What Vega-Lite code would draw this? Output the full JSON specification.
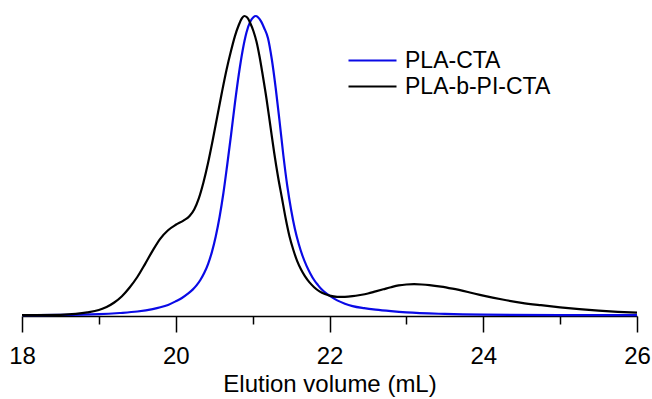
{
  "$schema": "https://vega.github.io/schema/vega-lite/v6.json",
  "width": 615,
  "height": 300,
  "autosize": "none",
  "padding": {"left": 22, "top": 16, "right": 15, "bottom": 83},
  "background": "white",
  "config": {
    "view": {"stroke": null},
    "font": "Liberation Sans"
  },
  "data": {
    "values": [
      {"sample": "PLA-CTA", "volume": 18.0, "signal": 0.3}, {"sample": "PLA-CTA", "volume": 18.5, "signal": 0.35},
      {"sample": "PLA-CTA", "volume": 19.0, "signal": 0.6}, {"sample": "PLA-CTA", "volume": 19.27, "signal": 1.0},
      {"sample": "PLA-CTA", "volume": 19.5, "signal": 1.5}, {"sample": "PLA-CTA", "volume": 19.7, "signal": 2.3},
      {"sample": "PLA-CTA", "volume": 19.8, "signal": 2.9}, {"sample": "PLA-CTA", "volume": 19.9, "signal": 3.7},
      {"sample": "PLA-CTA", "volume": 20.0, "signal": 4.9}, {"sample": "PLA-CTA", "volume": 20.08, "signal": 6.0},
      {"sample": "PLA-CTA", "volume": 20.15, "signal": 7.3}, {"sample": "PLA-CTA", "volume": 20.22, "signal": 8.8},
      {"sample": "PLA-CTA", "volume": 20.27, "signal": 10.2}, {"sample": "PLA-CTA", "volume": 20.32, "signal": 12.0},
      {"sample": "PLA-CTA", "volume": 20.37, "signal": 14.3}, {"sample": "PLA-CTA", "volume": 20.42, "signal": 17.3},
      {"sample": "PLA-CTA", "volume": 20.47, "signal": 21.3}, {"sample": "PLA-CTA", "volume": 20.52, "signal": 26.5},
      {"sample": "PLA-CTA", "volume": 20.57, "signal": 33.0}, {"sample": "PLA-CTA", "volume": 20.62, "signal": 41.0},
      {"sample": "PLA-CTA", "volume": 20.67, "signal": 50.5}, {"sample": "PLA-CTA", "volume": 20.72, "signal": 60.5},
      {"sample": "PLA-CTA", "volume": 20.77, "signal": 71.0}, {"sample": "PLA-CTA", "volume": 20.82, "signal": 80.5},
      {"sample": "PLA-CTA", "volume": 20.87, "signal": 88.5}, {"sample": "PLA-CTA", "volume": 20.92, "signal": 94.5},
      {"sample": "PLA-CTA", "volume": 20.97, "signal": 98.2}, {"sample": "PLA-CTA", "volume": 21.01, "signal": 99.6},
      {"sample": "PLA-CTA", "volume": 21.04, "signal": 100.0}, {"sample": "PLA-CTA", "volume": 21.07, "signal": 99.6},
      {"sample": "PLA-CTA", "volume": 21.11, "signal": 98.2}, {"sample": "PLA-CTA", "volume": 21.15, "signal": 96.0},
      {"sample": "PLA-CTA", "volume": 21.2, "signal": 92.6}, {"sample": "PLA-CTA", "volume": 21.25, "signal": 85.5},
      {"sample": "PLA-CTA", "volume": 21.3, "signal": 76.0}, {"sample": "PLA-CTA", "volume": 21.35, "signal": 65.0},
      {"sample": "PLA-CTA", "volume": 21.4, "signal": 53.5}, {"sample": "PLA-CTA", "volume": 21.45, "signal": 43.5},
      {"sample": "PLA-CTA", "volume": 21.5, "signal": 35.5}, {"sample": "PLA-CTA", "volume": 21.55, "signal": 29.0},
      {"sample": "PLA-CTA", "volume": 21.6, "signal": 24.0}, {"sample": "PLA-CTA", "volume": 21.65, "signal": 20.0},
      {"sample": "PLA-CTA", "volume": 21.7, "signal": 16.8}, {"sample": "PLA-CTA", "volume": 21.75, "signal": 14.2},
      {"sample": "PLA-CTA", "volume": 21.8, "signal": 12.0}, {"sample": "PLA-CTA", "volume": 21.85, "signal": 10.3},
      {"sample": "PLA-CTA", "volume": 21.9, "signal": 8.8}, {"sample": "PLA-CTA", "volume": 21.95, "signal": 7.7},
      {"sample": "PLA-CTA", "volume": 22.0, "signal": 6.8}, {"sample": "PLA-CTA", "volume": 22.1, "signal": 5.2},
      {"sample": "PLA-CTA", "volume": 22.2, "signal": 4.1}, {"sample": "PLA-CTA", "volume": 22.3, "signal": 3.3},
      {"sample": "PLA-CTA", "volume": 22.45, "signal": 2.6}, {"sample": "PLA-CTA", "volume": 22.6, "signal": 2.1},
      {"sample": "PLA-CTA", "volume": 22.8, "signal": 1.6}, {"sample": "PLA-CTA", "volume": 23.0, "signal": 1.2},
      {"sample": "PLA-CTA", "volume": 23.5, "signal": 0.7}, {"sample": "PLA-CTA", "volume": 24.0, "signal": 0.45},
      {"sample": "PLA-CTA", "volume": 25.0, "signal": 0.3}, {"sample": "PLA-CTA", "volume": 26.0, "signal": 0.3},

      {"sample": "PLA-b-PI-CTA", "volume": 18.0, "signal": 0.3}, {"sample": "PLA-b-PI-CTA", "volume": 18.5, "signal": 0.4},
      {"sample": "PLA-b-PI-CTA", "volume": 18.7, "signal": 0.7}, {"sample": "PLA-b-PI-CTA", "volume": 18.85, "signal": 1.2},
      {"sample": "PLA-b-PI-CTA", "volume": 19.0, "signal": 2.0}, {"sample": "PLA-b-PI-CTA", "volume": 19.1, "signal": 3.0},
      {"sample": "PLA-b-PI-CTA", "volume": 19.2, "signal": 4.5}, {"sample": "PLA-b-PI-CTA", "volume": 19.3, "signal": 6.6},
      {"sample": "PLA-b-PI-CTA", "volume": 19.4, "signal": 9.5}, {"sample": "PLA-b-PI-CTA", "volume": 19.5, "signal": 13.0},
      {"sample": "PLA-b-PI-CTA", "volume": 19.6, "signal": 17.3}, {"sample": "PLA-b-PI-CTA", "volume": 19.7, "signal": 21.8},
      {"sample": "PLA-b-PI-CTA", "volume": 19.8, "signal": 25.8}, {"sample": "PLA-b-PI-CTA", "volume": 19.9, "signal": 28.6},
      {"sample": "PLA-b-PI-CTA", "volume": 20.0, "signal": 30.4}, {"sample": "PLA-b-PI-CTA", "volume": 20.1, "signal": 31.8},
      {"sample": "PLA-b-PI-CTA", "volume": 20.18, "signal": 33.3}, {"sample": "PLA-b-PI-CTA", "volume": 20.24, "signal": 35.5},
      {"sample": "PLA-b-PI-CTA", "volume": 20.3, "signal": 39.2}, {"sample": "PLA-b-PI-CTA", "volume": 20.36, "signal": 44.5},
      {"sample": "PLA-b-PI-CTA", "volume": 20.42, "signal": 51.0}, {"sample": "PLA-b-PI-CTA", "volume": 20.48, "signal": 58.5},
      {"sample": "PLA-b-PI-CTA", "volume": 20.54, "signal": 66.5}, {"sample": "PLA-b-PI-CTA", "volume": 20.6, "signal": 74.5},
      {"sample": "PLA-b-PI-CTA", "volume": 20.66, "signal": 82.0}, {"sample": "PLA-b-PI-CTA", "volume": 20.72, "signal": 88.5},
      {"sample": "PLA-b-PI-CTA", "volume": 20.77, "signal": 93.3}, {"sample": "PLA-b-PI-CTA", "volume": 20.82, "signal": 97.0},
      {"sample": "PLA-b-PI-CTA", "volume": 20.86, "signal": 99.2}, {"sample": "PLA-b-PI-CTA", "volume": 20.89, "signal": 100.0},
      {"sample": "PLA-b-PI-CTA", "volume": 20.93, "signal": 99.5}, {"sample": "PLA-b-PI-CTA", "volume": 20.97, "signal": 97.6},
      {"sample": "PLA-b-PI-CTA", "volume": 21.01, "signal": 95.0}, {"sample": "PLA-b-PI-CTA", "volume": 21.05, "signal": 91.5},
      {"sample": "PLA-b-PI-CTA", "volume": 21.09, "signal": 86.5}, {"sample": "PLA-b-PI-CTA", "volume": 21.13, "signal": 80.5},
      {"sample": "PLA-b-PI-CTA", "volume": 21.18, "signal": 72.5}, {"sample": "PLA-b-PI-CTA", "volume": 21.23, "signal": 63.5},
      {"sample": "PLA-b-PI-CTA", "volume": 21.28, "signal": 54.5}, {"sample": "PLA-b-PI-CTA", "volume": 21.33, "signal": 46.5},
      {"sample": "PLA-b-PI-CTA", "volume": 21.38, "signal": 39.5}, {"sample": "PLA-b-PI-CTA", "volume": 21.43, "signal": 32.5},
      {"sample": "PLA-b-PI-CTA", "volume": 21.48, "signal": 26.5}, {"sample": "PLA-b-PI-CTA", "volume": 21.53, "signal": 22.0},
      {"sample": "PLA-b-PI-CTA", "volume": 21.58, "signal": 18.3}, {"sample": "PLA-b-PI-CTA", "volume": 21.63, "signal": 15.5},
      {"sample": "PLA-b-PI-CTA", "volume": 21.68, "signal": 13.3}, {"sample": "PLA-b-PI-CTA", "volume": 21.74, "signal": 11.2},
      {"sample": "PLA-b-PI-CTA", "volume": 21.8, "signal": 9.6}, {"sample": "PLA-b-PI-CTA", "volume": 21.87, "signal": 8.2},
      {"sample": "PLA-b-PI-CTA", "volume": 21.94, "signal": 7.3}, {"sample": "PLA-b-PI-CTA", "volume": 22.0, "signal": 6.8},
      {"sample": "PLA-b-PI-CTA", "volume": 22.1, "signal": 6.4}, {"sample": "PLA-b-PI-CTA", "volume": 22.2, "signal": 6.4},
      {"sample": "PLA-b-PI-CTA", "volume": 22.3, "signal": 6.6}, {"sample": "PLA-b-PI-CTA", "volume": 22.4, "signal": 7.0},
      {"sample": "PLA-b-PI-CTA", "volume": 22.5, "signal": 7.5}, {"sample": "PLA-b-PI-CTA", "volume": 22.6, "signal": 8.2},
      {"sample": "PLA-b-PI-CTA", "volume": 22.7, "signal": 8.9}, {"sample": "PLA-b-PI-CTA", "volume": 22.8, "signal": 9.6},
      {"sample": "PLA-b-PI-CTA", "volume": 22.9, "signal": 10.2}, {"sample": "PLA-b-PI-CTA", "volume": 23.0, "signal": 10.5},
      {"sample": "PLA-b-PI-CTA", "volume": 23.1, "signal": 10.6}, {"sample": "PLA-b-PI-CTA", "volume": 23.2, "signal": 10.5},
      {"sample": "PLA-b-PI-CTA", "volume": 23.3, "signal": 10.3}, {"sample": "PLA-b-PI-CTA", "volume": 23.45, "signal": 9.8},
      {"sample": "PLA-b-PI-CTA", "volume": 23.6, "signal": 9.1}, {"sample": "PLA-b-PI-CTA", "volume": 23.8, "signal": 8.0},
      {"sample": "PLA-b-PI-CTA", "volume": 24.0, "signal": 6.8}, {"sample": "PLA-b-PI-CTA", "volume": 24.25, "signal": 5.5},
      {"sample": "PLA-b-PI-CTA", "volume": 24.5, "signal": 4.4}, {"sample": "PLA-b-PI-CTA", "volume": 24.75, "signal": 3.6},
      {"sample": "PLA-b-PI-CTA", "volume": 25.0, "signal": 2.9}, {"sample": "PLA-b-PI-CTA", "volume": 25.25, "signal": 2.3},
      {"sample": "PLA-b-PI-CTA", "volume": 25.5, "signal": 1.8}, {"sample": "PLA-b-PI-CTA", "volume": 25.75, "signal": 1.4},
      {"sample": "PLA-b-PI-CTA", "volume": 26.0, "signal": 1.1}
    ]
  },
  "mark": {"type": "line", "strokeWidth": 2.2, "interpolate": "monotone"},
  "encoding": {
    "x": {
      "field": "volume",
      "type": "quantitative",
      "scale": {"domain": [18, 26], "nice": false, "zero": false},
      "axis": {
        "title": "Elution volume (mL)",
        "values": [18, 19, 20, 21, 22, 23, 24, 25, 26],
        "labelExpr": "datum.value % 2 === 0 ? datum.label : ''",
        "tickSize": {"condition": {"test": "datum.value % 2 === 0", "value": 16}, "value": 8},
        "grid": false,
        "domainColor": "black",
        "domainWidth": 1.5,
        "tickColor": "black",
        "tickWidth": 1.5,
        "labelFontSize": 24,
        "labelColor": "black",
        "labelFlush": false,
        "labelPadding": 12,
        "titleFontSize": 24,
        "titleFontWeight": "normal",
        "titleColor": "black",
        "titlePadding": 4
      }
    },
    "y": {
      "field": "signal",
      "type": "quantitative",
      "scale": {"domain": [0, 100]},
      "axis": null
    },
    "color": {
      "field": "sample",
      "type": "nominal",
      "sort": ["PLA-CTA", "PLA-b-PI-CTA"],
      "scale": {"domain": ["PLA-CTA", "PLA-b-PI-CTA"], "range": ["#0a0ae6", "#000000"]},
      "legend": {
        "title": null,
        "orient": "none",
        "legendX": 337,
        "legendY": 31,
        "padding": 0,
        "symbolType": "M-2,0H2",
        "symbolSize": 576,
        "symbolStrokeWidth": 2.2,
        "labelFontSize": 23,
        "labelColor": "black",
        "labelOffset": 19,
        "rowPadding": -4
      }
    }
  }
}
